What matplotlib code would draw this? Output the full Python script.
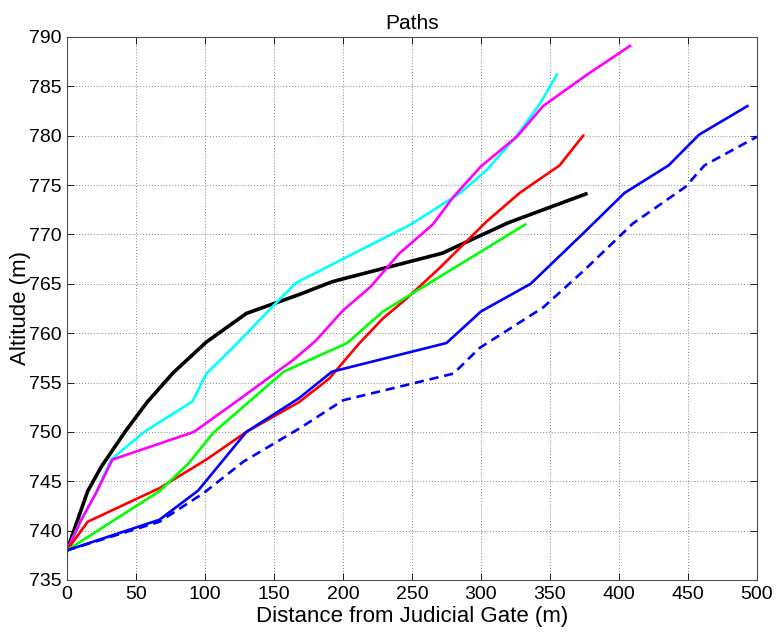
import matplotlib
matplotlib.use("Agg")
import matplotlib.pyplot as plt

plt.rcParams['font.family'] = ['Liberation Sans', 'DejaVu Sans']

# Path data: distance (m) and altitude (m)
black_x = [0, 5, 15, 25, 42, 58, 77, 101, 130, 168, 192, 200, 272, 292, 320, 376]
black_y = [738, 740, 744, 746.5, 750, 753, 756, 759.1, 762, 763.9, 765.2, 765.5, 768.1, 769.4, 771.2, 774.1]

cyan_x = [0, 10, 21, 32, 56, 91, 101, 120, 149, 166, 249, 285, 304, 326, 343, 355]
cyan_y = [738, 741, 743.8, 747.2, 750, 753.1, 755.9, 758.5, 762.7, 765.1, 771, 774.2, 776.5, 780, 783.3, 786.2]

magenta_x = [0, 10, 21, 33, 92, 120, 164, 180, 200, 220, 241, 265, 280, 300, 326, 345, 377, 408]
magenta_y = [738, 741, 743.8, 747.2, 750, 752.8, 757.3, 759.2, 762.3, 764.7, 768.1, 771, 773.8, 776.9, 779.9, 783, 786.2, 789.1]

red_x = [0, 15, 67, 101, 130, 168, 190, 212, 229, 246, 270, 304, 328, 357, 374]
red_y = [738, 740.9, 744.3, 747.2, 750, 753, 755.4, 759, 761.5, 763.5, 766.6, 771.3, 774.2, 777, 780]

green_x = [0, 67, 88, 106, 157, 203, 229, 332]
green_y = [738, 744, 746.8, 749.9, 756.1, 759, 762.2, 771]

blue_x = [0, 67, 95, 130, 168, 192, 275, 300, 336, 374, 404, 436, 458, 493]
blue_y = [738, 741.1, 744.05, 750, 753.4, 756.1, 759, 762.2, 765, 770.1, 774.2, 777, 780.1, 783]

bdash_x = [0, 67, 99, 128, 169, 200, 280, 299, 345, 375, 410, 448, 462, 500]
bdash_y = [738, 740.9, 743.8, 747, 750.4, 753.2, 755.9, 758.5, 762.6, 766.4, 771.1, 774.8, 777, 779.9]

xticks = [0, 50, 100, 150, 200, 250, 300, 350, 400, 450, 500]
yticks = [735, 740, 745, 750, 755, 760, 765, 770, 775, 780, 785, 790]

fig = plt.figure(figsize=(7.78, 6.32), dpi=100)
ax = fig.add_axes([0.0861, 0.0823, 0.8869, 0.8592])

ax.plot(black_x, black_y, color='k', lw=2.6)
ax.plot(cyan_x, cyan_y, color=(0, 1, 1), lw=1.9)
ax.plot(magenta_x, magenta_y, color=(1, 0, 1), lw=1.9)
ax.plot(red_x, red_y, color=(1, 0, 0), lw=1.9)
ax.plot(green_x, green_y, color=(0, 1, 0), lw=1.9)
ax.plot(blue_x, blue_y, color=(0, 0, 1), lw=1.9)
ax.plot(bdash_x, bdash_y, color=(0, 0, 1), lw=1.9, ls=(0, (3.5, 2.2)))

ax.set_xlim(0, 500)
ax.set_ylim(735, 790)
ax.set_xticks(xticks)
ax.set_yticks(yticks)
ax.tick_params(direction='in', top=True, right=True, labelsize=14, length=5, width=0.6, pad=4)
ax.grid(True, ls=(0, (1, 2.5)), color='0.35', lw=0.6)
for s in ax.spines.values():
    s.set_linewidth(0.8)
    s.set_color('0.3')

ax.set_title('Paths', fontsize=15, pad=6)
ax.set_xlabel('Distance from Judicial Gate (m)', fontsize=16, va='center')
ax.set_ylabel('Altitude (m)', fontsize=16, va='center')
ax.xaxis.set_label_coords(0.5, -0.068)
ax.yaxis.set_label_coords(-0.068, 0.5)

fig.savefig('out.png', dpi=100)
